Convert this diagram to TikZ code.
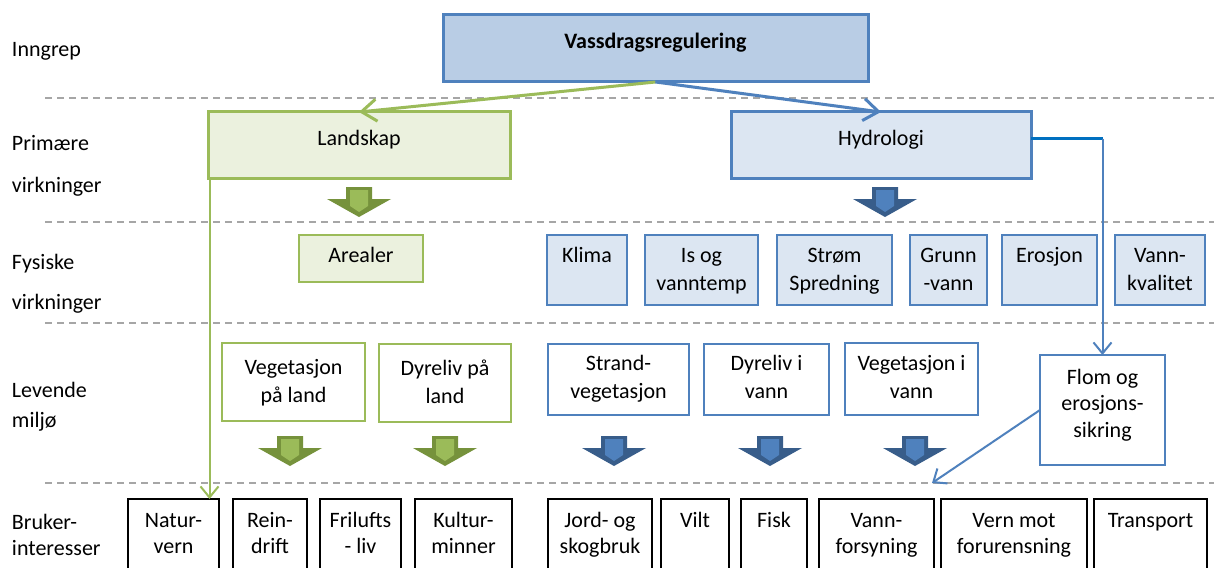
\documentclass[tikz,border=0pt]{standalone}
\usepackage{fontspec}
\setmainfont{Carlito}
\usetikzlibrary{arrows.meta,calc}
\definecolor{bBorder}{HTML}{4F81BD}
\definecolor{bTop}{HTML}{B9CDE5}
\definecolor{bLight}{HTML}{DCE6F2}
\definecolor{gBorder}{HTML}{9BBB59}
\definecolor{gLight}{HTML}{EBF1DE}
\definecolor{gDark}{HTML}{76923C}
\definecolor{bDark}{HTML}{385D8A}
\definecolor{dashgray}{HTML}{A6A6A6}
\definecolor{brightblue}{HTML}{0070C0}
\newcommand\hs{\rule{0pt}{20pt}}
\tikzset{
 base/.style={rectangle, inner sep=0, outer sep=0},
 topbox/.style={base, draw=bBorder, fill=bTop, line width=3},
 gprim/.style={base, draw=gBorder, fill=gLight, line width=3},
 bprim/.style={base, draw=bBorder, fill=bLight, line width=3},
 gfys/.style={base, draw=gBorder, fill=gLight, line width=2.5},
 bfys/.style={base, draw=bBorder, fill=bLight, line width=2.5},
 gliv/.style={base, draw=gBorder, fill=white, line width=2.5},
 bliv/.style={base, draw=bBorder, fill=white, line width=2},
 bruk/.style={base, draw=black, fill=white, line width=2.5},
 txt/.style={inner sep=0, outer sep=0, align=center, font=\fontsize{22}{28}\selectfont},
 txtb/.style={txt, font=\fontsize{22}{26.5}\selectfont},
 side/.style={inner sep=0, outer sep=0, anchor=base west, font=\fontsize{22}{28}\selectfont},
 sep/.style={draw=dashgray, line width=2, dash pattern=on 7pt off 5pt},
 bigtip/.style={-{Straight Barb[length=15pt,width=22pt]}},
 smalltip/.style={-{Straight Barb[length=11pt,width=18pt]}},
 gthick/.style={draw=gBorder, line width=3},
 bthick/.style={draw=bBorder, line width=3},
 gthin/.style={draw=gBorder, line width=2},
 bthin/.style={draw=bBorder, line width=2},
}
% style, name, x1, y1, x2, y2, first baseline, text
\newcommand\bx[8]{%
 \node[#1, anchor=north west, minimum width={#5-#3}, minimum height={#6-#4}] (#2) at (#3,#4) {};
 \node[txt, anchor=north] (#2-t) at ({(#3+#5)/2},{#7-20}) {\hs #8};
}
\newcommand\bxb[8]{%
 \node[#1, anchor=north west, minimum width={#5-#3}, minimum height={#6-#4}] (#2) at (#3,#4) {};
 \node[txtb, anchor=north] (#2-t) at ({(#3+#5)/2},{#7-20}) {\hs #8};
}
% x, top, dark, light
\newcommand\barr[4]{%
 \fill[#3] ({#1-13},#2) -- ({#1+13},#2) -- ({#1+13},{#2+12}) -- ({#1+32},{#2+12}) -- (#1,{#2+30}) -- ({#1-32},{#2+12}) -- ({#1-13},{#2+12}) -- cycle;
 \fill[#4] ({#1-9},{#2+3}) -- ({#1+9},{#2+3}) -- ({#1+9},{#2+19}) -- (#1,{#2+25}) -- ({#1-9},{#2+19}) -- cycle;
}
\begin{document}
\begin{tikzpicture}[x=1pt,y=-1pt]
\useasboundingbox (0,0) rectangle (1214,567);
\clip (0,0) rectangle (1214,567);
\fill[white] (0,0) rectangle (1214,567);

% separators
\draw[sep] (45,98) -- (1214,98);
\draw[sep] (45,222) -- (1214,222);
\draw[sep] (45,323) -- (1214,323);
\draw[sep] (45,483) -- (1214,483);

% side labels
\node[side] (l1) at (12,57) {Inngrep};
\node[side] (l2) at (12,150) {Primære};
\node[side] (l3) at (12,192) {virkninger};
\node[side] (l4) at (12,269) {Fysiske};
\node[side] (l5) at (12,309) {virkninger};
\node[side] (l6) at (12,397) {Levende};
\node[side] (l7) at (12,427) {miljø};
\node[side] (l8) at (12,529) {Bruker-};
\node[side] (l9) at (12,555) {interesser};

% top
\bx{topbox}{top}{443}{15}{868}{82}{49}{\textbf{Vassdragsregulering}}
% primary
\bx{gprim}{land}{208}{112}{510}{178}{145}{Landskap}
\bx{bprim}{hydro}{731}{112}{1031}{178}{145}{Hydrologi}
% physical
\bx{gfys}{areal}{299}{235}{423}{282}{262}{Arealer}
\bx{bfys}{klima}{547}{235}{627}{305}{262}{Klima}
\bx{bfys}{isog}{645}{235}{758}{305}{262}{Is og\\vanntemp}
\bx{bfys}{strom}{777}{235}{892}{305}{262}{Strøm\\Spredning}
\bx{bfys}{grunn}{910}{235}{987}{305}{262}{Grunn\\-vann}
\bx{bfys}{eros}{1002}{235}{1097}{305}{262}{Erosjon}
\bx{bfys}{kval}{1115}{235}{1205}{305}{262}{Vann-\\kvalitet}
% living
\bx{gliv}{vegl}{222}{343}{365}{421}{374}{Vegetasjon\\på land}
\bx{gliv}{dyrl}{379}{344}{511}{422}{375}{Dyreliv på\\land}
\bx{bliv}{strand}{548}{344}{689}{415}{370}{Strand-\\vegetasjon}
\bx{bliv}{dyrv}{704}{344}{829}{415}{370}{Dyreliv i\\vann}
\bx{bliv}{vegv}{845}{343}{978}{415}{370}{Vegetasjon i\\vann}
\bxb{bliv}{flom}{1040}{355}{1165}{465}{384}{Flom og\\erosjons-\\sikring}
% users
\bxb{bruk}{natur}{128}{499}{219}{580}{527}{Natur-\\vern}
\bxb{bruk}{rein}{233}{499}{307}{580}{527}{Rein-\\drift}
\bxb{bruk}{friluft}{320}{499}{401}{580}{527}{Frilufts\\- liv}
\bxb{bruk}{kultur}{415}{499}{512}{580}{527}{Kultur-\\minner}
\bxb{bruk}{jord}{548}{499}{652}{580}{527}{Jord- og\\skogbruk}
\bxb{bruk}{vilt}{661}{499}{729}{580}{527}{Vilt}
\bxb{bruk}{fisk}{741}{499}{807}{580}{527}{Fisk}
\bxb{bruk}{vannf}{819}{499}{934}{580}{527}{Vann-\\forsyning}
\bxb{bruk}{vern}{941}{499}{1087}{580}{527}{Vern mot\\forurensning}
\bxb{bruk}{transp}{1094}{499}{1207}{580}{527}{Transport}

% block arrows
\barr{359}{187}{gDark}{gBorder}
\barr{885}{187}{bDark}{bBorder}
\barr{290}{436}{gDark}{gBorder}
\barr{445}{436}{gDark}{gBorder}
\barr{614}{436}{bDark}{bBorder}
\barr{770}{436}{bDark}{bBorder}
\barr{915}{436}{bDark}{bBorder}

% connectors
\draw[gthick, bigtip] (top.south) -- (land.north);
\draw[bthick, bigtip] (top.south) -- (hydro.north);
\draw[gthin, smalltip] ([xshift=1.5pt]land.south west) -- ([xshift=1.5pt]land.south west |- natur.north);
\coordinate (bend) at ([yshift=6.5pt]hydro.east -| flom.north);
\draw[draw=brightblue, line width=2.5] ([yshift=6.5pt]hydro.east) -- (bend);
\draw[bthin, smalltip] (bend) -- (flom.north);
\coordinate (fend) at (932,483);
\draw[bthin, smalltip] (flom.west) -- (fend);
\end{tikzpicture}
\end{document}
